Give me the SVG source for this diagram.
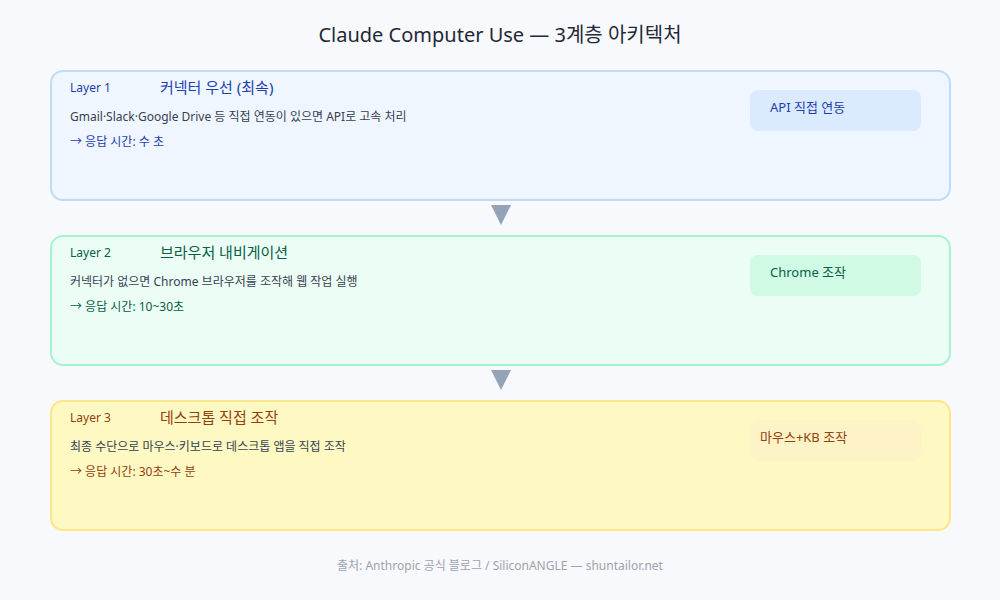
<svg xmlns="http://www.w3.org/2000/svg" width="1000" height="600" viewBox="0 0 1000 600">
<style>
text{font-family:"Noto Sans","Noto Sans CJK KR",sans-serif}
.title{font-size:20px;fill:#1f2937;text-anchor:middle}
.lay{font-size:12px}
.head{font-size:15px}
.desc{font-size:12px;fill:#374151}
.time{font-size:12px}
.badge{font-size:13px}
.foot{font-size:12px;fill:#9ca3af;text-anchor:middle}
.arrow{fill:#94a3b8}
</style>
<rect width="1000" height="600" fill="#f8f9fc"/>
<text class="title" x="500" y="42">Claude Computer Use — 3계층 아키텍처</text>
<g id="layer1">
<rect x="51" y="71" width="899" height="129" rx="12" fill="#eff6ff" stroke="#bfdbf5" stroke-width="2"/>
<text class="lay" x="70" y="92" fill="#1e40af">Layer 1</text>
<text class="head" x="160" y="93" fill="#1e40af">커넥터 우선 (최속)</text>
<text class="desc" x="70" y="121">Gmail·Slack·Google Drive 등 직접 연동이 있으면 API로 고속 처리</text>
<text class="time" x="70" y="146" fill="#1e40af">→ 응답 시간: 수 초</text>
<rect x="750" y="90" width="171" height="41" rx="8" fill="#dbeafe"/>
<text class="badge" x="770" y="112" fill="#1e40af">API 직접 연동</text>
</g>
<g id="layer2">
<rect x="51" y="236" width="899" height="129" rx="12" fill="#ecfdf5" stroke="#a7f3d0" stroke-width="2"/>
<text class="lay" x="70" y="257" fill="#065f46">Layer 2</text>
<text class="head" x="160" y="258" fill="#065f46">브라우저 내비게이션</text>
<text class="desc" x="70" y="286">커넥터가 없으면 Chrome 브라우저를 조작해 웹 작업 실행</text>
<text class="time" x="70" y="311" fill="#065f46">→ 응답 시간: 10~30초</text>
<rect x="750" y="255" width="171" height="41" rx="8" fill="#d1fae5"/>
<text class="badge" x="770" y="277" fill="#065f46">Chrome 조작</text>
</g>
<g id="layer3">
<rect x="51" y="401" width="899" height="129" rx="12" fill="#fef9c3" stroke="#fde68a" stroke-width="2"/>
<text class="lay" x="70" y="422" fill="#92400e">Layer 3</text>
<text class="head" x="160" y="423" fill="#92400e">데스크톱 직접 조작</text>
<text class="desc" x="70" y="451">최종 수단으로 마우스·키보드로 데스크톱 앱을 직접 조작</text>
<text class="time" x="70" y="476" fill="#92400e">→ 응답 시간: 30초~수 분</text>
<rect x="750" y="420" width="171" height="41" rx="8" fill="#fef3c7"/>
<text class="badge" x="760" y="442" fill="#92400e">마우스+KB 조작</text>
</g>
<g id="connectors">
<polygon class="arrow" points="491,205 511,205 501,225"/>
<polygon class="arrow" points="491,370 511,370 501,390"/>
</g>
<text class="foot" x="500" y="570">출처: Anthropic 공식 블로그 / SiliconANGLE — shuntailor.net</text>
</svg>
